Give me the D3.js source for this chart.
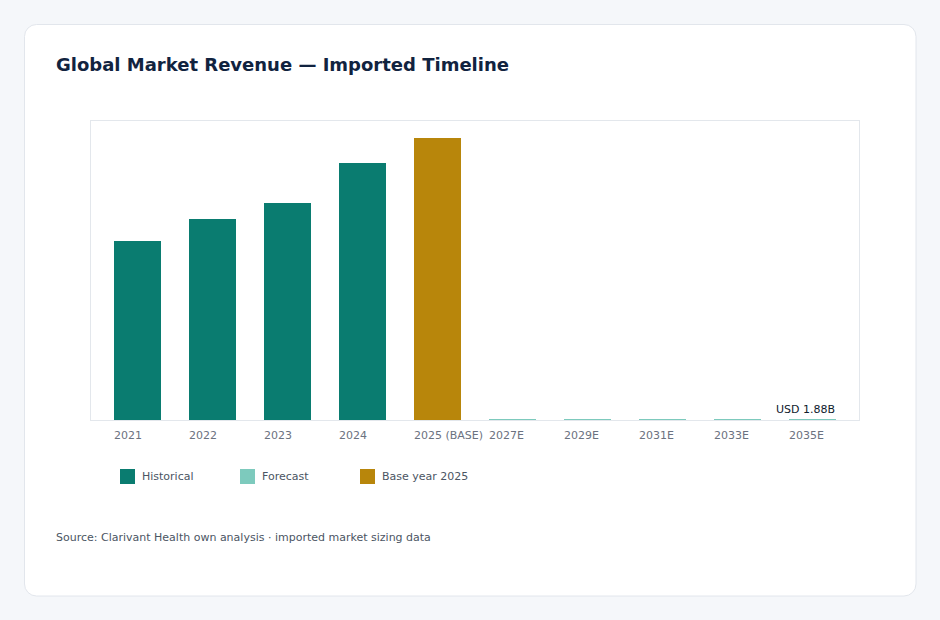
<!DOCTYPE html>
<html lang="en">
<head>
  <meta charset="UTF-8">
  <title>Global Market Revenue</title>
</head>
<body>
<style>
  * {
    padding: 0;
    margin: 0;
  }

  body {
    background: #f5f7fa;
    font-family: "DejaVu Sans", sans-serif;
  }

  #app {
    width: 940px;
    height: 620px;
  }
</style>

<div id="app"></div>

<script src="https://cdn.jsdelivr.net/npm/d3@7/dist/d3.min.js"></script>
<script>
  // values (historical raw units, forecast imported in billions)
  var years = ['2021', '2022', '2023', '2024', '2025 (BASE)', '2027E', '2029E', '2031E', '2033E', '2035E'];
  var revenue = [298, 335, 362, 428, 470, 1.62, 1.68, 1.74, 1.81, 1.88];
  var kinds = ['hist', 'hist', 'hist', 'hist', 'base', 'fc', 'fc', 'fc', 'fc', 'fc'];
  var legendNames = ['Historical', 'Forecast', 'Base year 2025'];
  var legendKinds = ['hist', 'fc', 'base'];

  var colors = {hist: '#0a7c70', fc: '#7dcabd', base: '#b8860b'};

  function drawChart() {
    var svg = d3.select('#app').append('svg')
      .attr('width', 940).attr('height', 620);

    // card
    svg.append('rect')
      .attr('x', 24.5).attr('y', 24.5).attr('width', 891.5).attr('height', 571.5)
      .attr('rx', 12).attr('fill', '#fff').attr('stroke', '#e2e6ec');

    svg.append('text')
      .attr('x', 56).attr('y', 71)
      .attr('font-size', 18).attr('font-weight', 'bold').attr('fill', '#11233f')
      .text('Global Market Revenue — Imported Timeline');

    var plot = {left: 90, right: 860, top: 120, bottom: 420};

    svg.append('rect')
      .attr('x', plot.left + 0.5).attr('y', plot.top + 0.5)
      .attr('width', plot.right - plot.left - 1).attr('height', plot.bottom - plot.top)
      .attr('fill', 'none').attr('stroke', '#e3e7ec');

    var x = d3.scaleBand().domain(years)
      .range([plot.left, plot.right])
      .paddingInner(0.373).paddingOuter(0.32);

    var y = d3.scaleLinear().domain([0, 500]).range([plot.bottom, plot.top]);

    svg.append('g').attr('shape-rendering', 'crispEdges')
      .selectAll('rect')
      .data(years)
      .join('rect')
      .attr('x', d => x(d))
      .attr('y', (d, i) => y(revenue[i]))
      .attr('width', x.bandwidth())
      .attr('height', (d, i) => y(0) - y(revenue[i]))
      .attr('fill', (d, i) => colors[kinds[i]]);

    // x labels, left aligned with bars
    svg.append('g').selectAll('text')
      .data(years)
      .join('text')
      .attr('x', d => x(d))
      .attr('y', 439)
      .attr('font-size', 11).attr('fill', '#6b7280')
      .text(d => d);

    // value label on the last bar
    var last = years.length - 1;
    svg.append('text')
      .attr('x', x(years[last]) + x.bandwidth() - 1)
      .attr('y', y(revenue[last]) - 6)
      .attr('text-anchor', 'end')
      .attr('font-size', 11).attr('fill', '#0f1b2d')
      .text('USD ' + revenue[last].toFixed(2) + 'B');

    // legend
    var lg = svg.append('g').selectAll('g')
      .data(legendNames)
      .join('g')
      .attr('transform', (d, i) => 'translate(' + (120 + i * 120) + ',469)');
    lg.append('rect')
      .attr('width', 15).attr('height', 15)
      .attr('fill', (d, i) => colors[legendKinds[i]]);
    lg.append('text')
      .attr('x', 22).attr('y', 11)
      .attr('font-size', 11).attr('fill', '#4b5563')
      .text(d => d);

    svg.append('text')
      .attr('x', 56).attr('y', 541)
      .attr('font-size', 11).attr('fill', '#4b5563')
      .text('Source: Clarivant Health own analysis · imported market sizing data');
  }

  drawChart();
</script>

</body>
</html>
